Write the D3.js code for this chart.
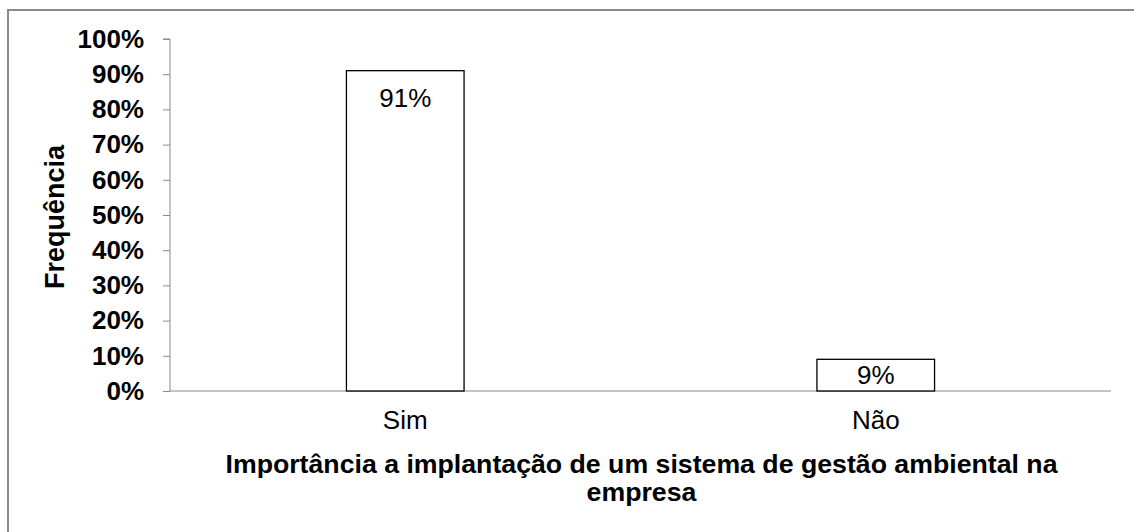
<!DOCTYPE html>
<html>
<head>
<meta charset="utf-8">
<script src="https://cdn.jsdelivr.net/npm/d3@7"></script>
<style>
  body { margin: 0; background: #fff; }
  svg { display: block; font-family: Arial, "Liberation Sans", sans-serif; }
</style>
</head>
<body>
<svg id="chart"></svg>
<script>
// chart data
var categories = ["Sim", "Não"];
var values = [0.91, 0.09];
var valueLabels = ["91%", "9%"];
var tickValues = [0, 0.1, 0.2, 0.3, 0.4, 0.5, 0.6, 0.7, 0.8, 0.9, 1.0];
var yTitle = "Frequência";
var xTitleLines = ["Importância a implantação de um sistema de gestão ambiental na", "empresa"];

var width = 1134,
    height = 532;

var svg = d3.select("#chart")
    .attr("width", width)
    .attr("height", height);

// outer chart frame (only top and left edges are inside the picture)
svg.append("rect")
    .attr("x", 8).attr("y", 10)
    .attr("width", width + 20).attr("height", height + 20)
    .attr("fill", "#fff")
    .attr("stroke", "#8a8a8a")
    .attr("stroke-width", 2);

var plotLeft = 170, plotRight = 1111, plotTop = 39, plotBottom = 391;

var x = d3.scaleBand()
    .domain(categories)
    .range([plotLeft, plotRight])
    .padding(0);

var y = d3.scaleLinear()
    .domain([0, 1])
    .range([plotBottom, plotTop]);

var barW = x.bandwidth() * 0.25;

// y axis
var yAxis = svg.append("g")
    .attr("transform", "translate(" + plotLeft + ",0)")
    .call(d3.axisLeft(y)
        .tickValues(tickValues)
        .tickSize(7)
        .tickPadding(19)
        .tickFormat(d3.format(".0%")));
yAxis.select(".domain").attr("stroke", "#8a8a8a").attr("d", "M-7," + plotTop + "H0V" + plotBottom);
yAxis.selectAll(".tick line").attr("stroke", "#8a8a8a");
yAxis.selectAll(".tick text")
    .attr("fill", "#000")
    .attr("font-size", 26)
    .attr("font-weight", "bold")
    .attr("font-family", "Arial, 'Liberation Sans', sans-serif");

// x axis
var xAxis = svg.append("g")
    .attr("transform", "translate(0," + plotBottom + ")")
    .call(d3.axisBottom(x).tickSize(0).tickPadding(20));
xAxis.select(".domain").attr("stroke", "#8a8a8a").attr("d", "M" + plotLeft + ",0H" + plotRight);
xAxis.selectAll(".tick text")
    .attr("fill", "#000")
    .attr("font-size", 26)
    .attr("font-family", "Arial, 'Liberation Sans', sans-serif");

// bars
svg.selectAll("rect.bar")
    .data(values)
    .enter()
    .append("rect")
    .attr("class", "bar")
    .attr("x", function (d, i) { return x(categories[i]) + (x.bandwidth() - barW) / 2; })
    .attr("y", function (d) { return y(d); })
    .attr("width", barW)
    .attr("height", function (d) { return y(0) - y(d); })
    .attr("fill", "#fff")
    .attr("stroke", "#000")
    .attr("stroke-width", 1.3);

// value labels (inside end, or centred if the bar is short)
svg.selectAll("text.val")
    .data(values)
    .enter()
    .append("text")
    .attr("class", "val")
    .attr("x", function (d, i) { return x(categories[i]) + x.bandwidth() / 2; })
    .attr("y", function (d) { return Math.min(y(d) + 27, (y(d) + y(0)) / 2); })
    .attr("dy", "0.35em")
    .attr("text-anchor", "middle")
    .attr("font-size", 26)
    .text(function (d, i) { return valueLabels[i]; });

// axis titles
svg.append("text")
    .attr("transform", "translate(64," + ((plotTop + plotBottom) / 2 + 2) + ") rotate(-90)")
    .attr("text-anchor", "middle")
    .attr("font-size", 27)
    .attr("font-weight", "bold")
    .text(yTitle);

svg.append("text")
    .attr("text-anchor", "middle")
    .attr("font-size", 26.7)
    .attr("font-weight", "bold")
    .selectAll("tspan")
    .data(xTitleLines)
    .enter()
    .append("tspan")
    .attr("x", (plotLeft + plotRight) / 2 + 1)
    .attr("y", function (d, i) { return 473 + i * 28; })
    .text(function (d) { return d; });
</script>
</body>
</html>
